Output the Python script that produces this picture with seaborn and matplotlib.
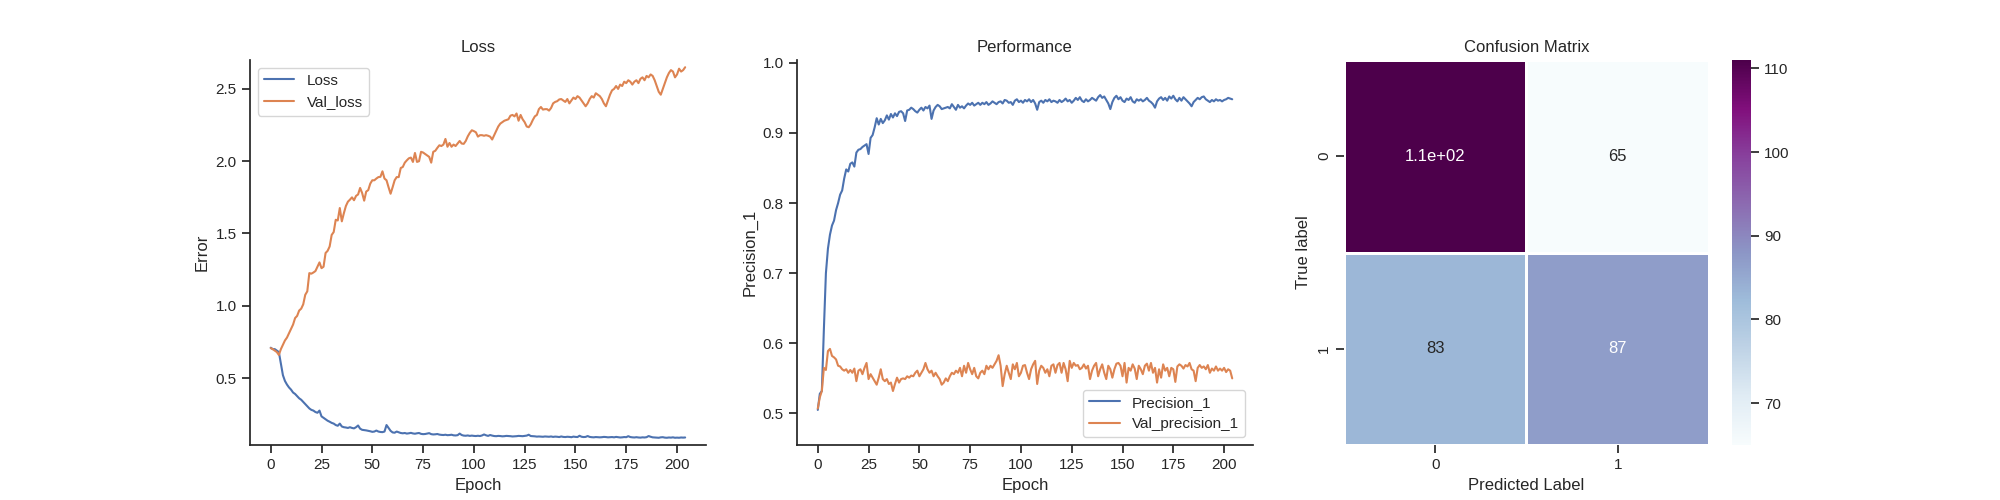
import numpy as np
import pandas as pd
import seaborn as sns
import matplotlib
matplotlib.use("Agg")
import matplotlib.pyplot as plt

# training history (205 epochs)
loss = [
    0.710, 0.700, 0.700, 0.690, 0.680, 0.600, 0.520, 0.480, 0.455, 0.435,
    0.420, 0.400, 0.390, 0.375, 0.360, 0.350, 0.335, 0.320, 0.305, 0.290,
    0.280, 0.275, 0.265, 0.260, 0.275, 0.235, 0.225, 0.215, 0.205, 0.198,
    0.190, 0.185, 0.175, 0.170, 0.185, 0.165, 0.160, 0.158, 0.155, 0.160,
    0.155, 0.152, 0.160, 0.172, 0.150, 0.142, 0.140, 0.138, 0.135, 0.132,
    0.128, 0.130, 0.137, 0.130, 0.127, 0.126, 0.130, 0.175, 0.155, 0.135,
    0.124, 0.122, 0.130, 0.125, 0.120, 0.118, 0.120, 0.116, 0.118, 0.121,
    0.117, 0.115, 0.118, 0.120, 0.114, 0.112, 0.113, 0.116, 0.119, 0.112,
    0.110, 0.111, 0.113, 0.109, 0.107, 0.106, 0.108, 0.105, 0.106, 0.108,
    0.104, 0.103, 0.105, 0.116, 0.106, 0.102, 0.101, 0.103, 0.100, 0.102,
    0.100, 0.099, 0.101, 0.099, 0.103, 0.110, 0.104, 0.100, 0.106, 0.102,
    0.099, 0.098, 0.100, 0.099, 0.097, 0.098, 0.100, 0.099, 0.098, 0.096,
    0.097, 0.098, 0.100, 0.099, 0.098, 0.100, 0.102, 0.108, 0.099, 0.098,
    0.097, 0.095, 0.096, 0.095, 0.094, 0.096, 0.095, 0.094, 0.096, 0.093,
    0.095, 0.094, 0.092, 0.096, 0.093, 0.092, 0.094, 0.093, 0.091, 0.095,
    0.093, 0.092, 0.101, 0.094, 0.092, 0.093, 0.099, 0.093, 0.091, 0.090,
    0.092, 0.091, 0.090, 0.091, 0.093, 0.092, 0.090, 0.091, 0.092, 0.090,
    0.093, 0.091, 0.089, 0.090, 0.092, 0.091, 0.098, 0.092, 0.090, 0.089,
    0.091, 0.089, 0.088, 0.090, 0.089, 0.091, 0.099, 0.094, 0.090, 0.089,
    0.088, 0.087, 0.090, 0.091, 0.088, 0.087, 0.089, 0.088, 0.090, 0.087,
    0.088, 0.087, 0.089, 0.088, 0.089,
]
val_loss = [
    0.707, 0.700, 0.690, 0.680, 0.660, 0.700, 0.730, 0.760, 0.780, 0.810,
    0.840, 0.870, 0.915, 0.930, 0.967, 0.980, 1.010, 1.076, 1.100, 1.226,
    1.222, 1.230, 1.240, 1.270, 1.300, 1.260, 1.270, 1.365, 1.380, 1.410,
    1.490, 1.510, 1.595, 1.590, 1.676, 1.584, 1.640, 1.690, 1.720, 1.734,
    1.750, 1.730, 1.760, 1.770, 1.815, 1.780, 1.727, 1.790, 1.800, 1.845,
    1.868, 1.868, 1.880, 1.890, 1.892, 1.930, 1.880, 1.868, 1.820, 1.775,
    1.820, 1.868, 1.890, 1.890, 1.953, 1.960, 1.990, 2.006, 2.020, 2.025,
    1.995, 2.057, 1.995, 2.000, 2.065, 2.060, 2.050, 2.040, 2.030, 1.990,
    2.065, 2.072, 2.092, 2.110, 2.105, 2.115, 2.154, 2.100, 2.126, 2.100,
    2.115, 2.105, 2.122, 2.140, 2.122, 2.120, 2.140, 2.172, 2.196, 2.214,
    2.208, 2.200, 2.170, 2.180, 2.180, 2.176, 2.180, 2.176, 2.170, 2.150,
    2.180, 2.210, 2.240, 2.260, 2.270, 2.280, 2.285, 2.290, 2.315, 2.320,
    2.310, 2.330, 2.280, 2.320, 2.290, 2.270, 2.240, 2.235, 2.255, 2.285,
    2.310, 2.320, 2.360, 2.375, 2.357, 2.360, 2.360, 2.350, 2.368, 2.400,
    2.410, 2.415, 2.427, 2.430, 2.420, 2.410, 2.430, 2.400, 2.420, 2.440,
    2.430, 2.450, 2.440, 2.420, 2.400, 2.380, 2.400, 2.430, 2.450, 2.440,
    2.470, 2.460, 2.450, 2.430, 2.400, 2.380, 2.420, 2.460, 2.490, 2.500,
    2.520, 2.500, 2.530, 2.520, 2.550, 2.540, 2.560, 2.550, 2.530, 2.550,
    2.560, 2.540, 2.570, 2.580, 2.560, 2.590, 2.580, 2.600, 2.590, 2.560,
    2.520, 2.480, 2.460, 2.500, 2.540, 2.580, 2.610, 2.630, 2.620, 2.580,
    2.600, 2.640, 2.620, 2.630, 2.650,
]
precision = [
    0.505, 0.528, 0.532, 0.620, 0.700, 0.735, 0.755, 0.768, 0.775, 0.790,
    0.800, 0.812, 0.818, 0.835, 0.848, 0.845, 0.856, 0.858, 0.852, 0.872,
    0.876, 0.877, 0.880, 0.882, 0.884, 0.870, 0.893, 0.897, 0.908, 0.921,
    0.912, 0.920, 0.914, 0.918, 0.925, 0.919, 0.927, 0.922, 0.928, 0.924,
    0.930, 0.931, 0.928, 0.917, 0.932, 0.933, 0.936, 0.934, 0.931, 0.929,
    0.933, 0.936, 0.932, 0.937, 0.935, 0.939, 0.920, 0.932, 0.937, 0.940,
    0.938, 0.934, 0.935, 0.936, 0.937, 0.935, 0.941, 0.937, 0.933, 0.940,
    0.936, 0.938, 0.935, 0.939, 0.942, 0.940, 0.943, 0.939, 0.941, 0.943,
    0.940, 0.943, 0.941, 0.944, 0.940, 0.942, 0.945, 0.943, 0.941, 0.944,
    0.945, 0.942, 0.947, 0.946, 0.943, 0.944, 0.940, 0.946, 0.948, 0.944,
    0.946, 0.943, 0.947, 0.945, 0.948, 0.944, 0.947, 0.942, 0.933, 0.944,
    0.946, 0.943, 0.947, 0.945, 0.948, 0.944, 0.946, 0.945, 0.943, 0.947,
    0.944, 0.946, 0.949, 0.945, 0.947, 0.943, 0.946, 0.950, 0.947, 0.951,
    0.946, 0.944, 0.948, 0.945, 0.947, 0.950, 0.948, 0.946, 0.951, 0.954,
    0.950, 0.952, 0.947, 0.942, 0.934, 0.944, 0.950, 0.953, 0.948, 0.951,
    0.946, 0.944, 0.949, 0.947, 0.951, 0.945, 0.943, 0.948, 0.946, 0.948,
    0.945, 0.947, 0.950, 0.946, 0.944, 0.941, 0.936, 0.945, 0.949, 0.951,
    0.947, 0.950, 0.946, 0.952, 0.949, 0.953, 0.948, 0.945, 0.950, 0.946,
    0.951, 0.948, 0.945, 0.942, 0.938, 0.944, 0.947, 0.950, 0.948, 0.951,
    0.952, 0.948, 0.946, 0.944, 0.947, 0.945, 0.948, 0.946, 0.947, 0.945,
    0.947, 0.948, 0.950, 0.949, 0.948,
]
val_precision = [
    0.507, 0.523, 0.532, 0.565, 0.562, 0.589, 0.592, 0.582, 0.580, 0.577,
    0.568, 0.567, 0.563, 0.561, 0.563, 0.558, 0.562, 0.558, 0.564, 0.546,
    0.561, 0.563, 0.556, 0.565, 0.572, 0.549, 0.556, 0.551, 0.546, 0.541,
    0.551, 0.563, 0.549, 0.546, 0.549, 0.542, 0.544, 0.532, 0.542, 0.551,
    0.544, 0.549, 0.550, 0.549, 0.553, 0.551, 0.554, 0.553, 0.558, 0.561,
    0.553, 0.558, 0.563, 0.572, 0.563, 0.558, 0.561, 0.553, 0.558, 0.553,
    0.549, 0.541, 0.544, 0.550, 0.546, 0.553, 0.558, 0.556, 0.561, 0.558,
    0.565, 0.553, 0.568, 0.558, 0.572, 0.563, 0.556, 0.565, 0.553, 0.550,
    0.558, 0.561, 0.556, 0.568, 0.563, 0.568, 0.565, 0.570, 0.575, 0.583,
    0.568, 0.539, 0.556, 0.568, 0.558, 0.549, 0.570, 0.563, 0.572, 0.553,
    0.558, 0.568, 0.569, 0.558, 0.549, 0.563, 0.570, 0.575, 0.542, 0.561,
    0.568, 0.565, 0.558, 0.563, 0.553, 0.568, 0.570, 0.558, 0.569, 0.572,
    0.558, 0.572, 0.563, 0.546, 0.575, 0.565, 0.572, 0.568, 0.569, 0.563,
    0.565, 0.570, 0.564, 0.568, 0.549, 0.561, 0.568, 0.572, 0.553, 0.563,
    0.570, 0.558, 0.549, 0.568, 0.563, 0.551, 0.563, 0.571, 0.572, 0.568,
    0.553, 0.572, 0.544, 0.565, 0.561, 0.570, 0.564, 0.549, 0.568, 0.563,
    0.556, 0.568, 0.571, 0.561, 0.572, 0.558, 0.565, 0.544, 0.563, 0.551,
    0.570, 0.561, 0.565, 0.553, 0.565, 0.563, 0.545, 0.567, 0.570, 0.568,
    0.564, 0.569, 0.567, 0.572, 0.563, 0.561, 0.546, 0.565, 0.569, 0.565,
    0.567, 0.563, 0.569, 0.558, 0.564, 0.561, 0.567, 0.561, 0.564, 0.561,
    0.565, 0.559, 0.563, 0.561, 0.550,
]

# confusion matrix (rows = true label, cols = predicted label)
cm_labels = ["0", "1"]
cm_values = [[111, 65],
             [83, 87]]

epochs = np.arange(len(loss))
hist = pd.DataFrame({"epoch": epochs, "Loss": loss, "Val_loss": val_loss,
                     "Precision_1": precision, "Val_precision_1": val_precision})

sns.set_theme(style="ticks")
plt.rcParams["font.family"] = ["Liberation Sans", "DejaVu Sans"]

fig, axes = plt.subplots(1, 3, figsize=(20, 5))

#### LOSS ####
ax = axes[0]
sns.lineplot(x="epoch", y="Loss", data=hist, ax=ax, label="Loss")
sns.lineplot(x="epoch", y="Val_loss", data=hist, ax=ax, label="Val_loss")
lo = min(min(loss), min(val_loss))
hi = max(max(loss), max(val_loss))
ax.set_ylim(lo - 0.05, hi + 0.05)
ax.set_title("Loss")
ax.set_xlabel("Epoch")
ax.set_ylabel("Error")
ax.legend(loc="upper left")
sns.despine(ax=ax)

#### PERFORMANCE ####
ax = axes[1]
sns.lineplot(x="epoch", y="Precision_1", data=hist, ax=ax, label="Precision_1")
sns.lineplot(x="epoch", y="Val_precision_1", data=hist, ax=ax, label="Val_precision_1")
lo = min(min(precision), min(val_precision))
hi = max(max(precision), max(val_precision))
ax.set_ylim(lo - 0.05, hi + 0.05)
ax.set_title("Performance")
ax.set_xlabel("Epoch")
ax.set_ylabel("Precision_1")
ax.legend(loc="lower right")
sns.despine(ax=ax)

#### CONFUSION MATRIX ####
ax = axes[2]
cm = pd.DataFrame(cm_values, index=cm_labels, columns=cm_labels)
sns.heatmap(cm, annot=True, cmap="BuPu", linewidths=2, ax=ax)
ax.set_title("Confusion Matrix")
ax.set_xlabel("Predicted Label")
ax.set_ylabel("True label")

fig.savefig("out.png", dpi=100)
